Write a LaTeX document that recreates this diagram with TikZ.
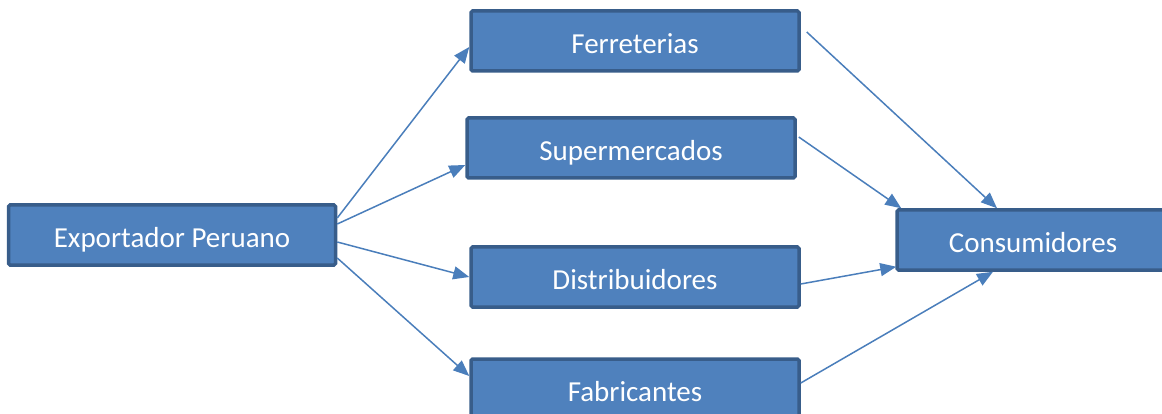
\documentclass[tikz,border=0pt]{standalone}
\usepackage{fontspec}
\setmainfont{Carlito}
\usetikzlibrary{arrows.meta}

\definecolor{boxfill}{HTML}{4F81BD}
\definecolor{boxline}{HTML}{385D8A}
\definecolor{arrowcol}{HTML}{4A7EBB}

\tikzset{
    canal/.style={draw=boxline, line width=3.5pt, fill=boxfill, rounded corners=1.5pt,
        minimum width=328pt, minimum height=60pt, inner sep=0pt,
        text height=25pt, text depth=0pt,
        text=white, font=\fontsize{29}{34}\selectfont},
    flujo/.style={draw=arrowcol, line width=1.5pt,
        -{Triangle[length=16pt, width=13pt]}}
}

\begin{document}
\begin{tikzpicture}[x=1pt, y=-1pt]
        \clip (0,0) rectangle (1162,414);
        \node[canal, minimum width=327pt] (exp) at (172,235) {Exportador Peruano};
        \node[canal] (fer) at (635,41) {Ferreterias};
        \node[canal] (sup) at (631,148) {Supermercados};
        \node[canal] (dis) at (635,277) {Distribuidores};
        \node[canal] (fab) at (635,389) {Fabricantes};
        \node[canal, minimum width=272pt] (con) at (1033,240) {Consumidores};
        % del exportador a los canales
        \draw[flujo] ([yshift=17pt]exp.east) -- ([yshift=-6pt]fer.west);
        \draw[flujo] ([yshift=11pt]exp.east) -- ([yshift=-17pt]sup.west);
        \draw[flujo] ([yshift=-7pt]exp.east) -- (dis.west);
        \draw[flujo] ([yshift=-23pt]exp.east) -- ([yshift=13pt]fab.west);
        % de los canales al consumidor
        \draw[flujo] ([xshift=6pt,yshift=9pt]fer.east) -- ([xshift=-36pt]con.north);
        \draw[flujo] ([xshift=2pt,yshift=11pt]sup.east) -- ([xshift=6pt]con.north west);
        \draw[flujo] ([yshift=-7pt]dis.east) -- ([xshift=1pt,yshift=5pt]con.south west);
        \draw[flujo] ([yshift=6pt]fab.east) -- ([xshift=-40pt]con.south);
\end{tikzpicture}
\end{document}
